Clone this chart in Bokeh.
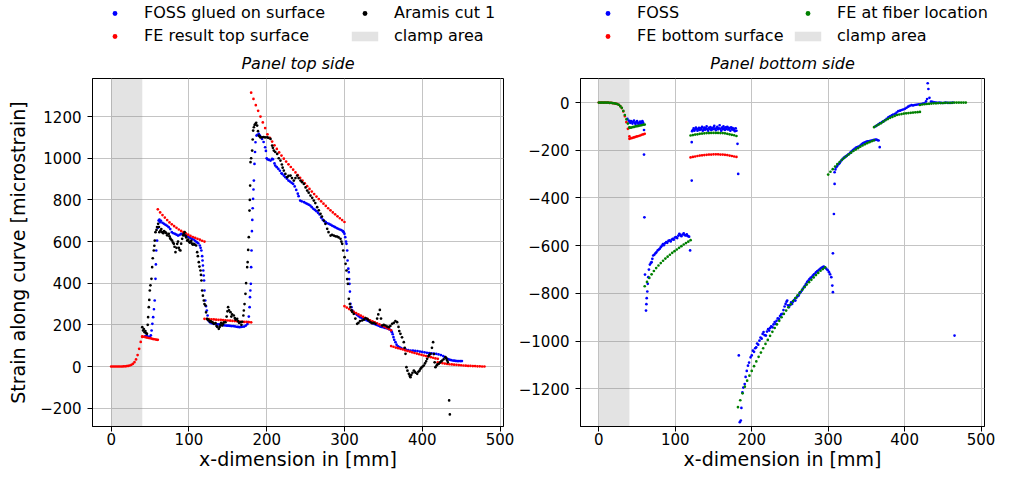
from bokeh.plotting import figure
from bokeh.layouts import row, column
from bokeh.models import Range1d, Legend, LegendItem, FixedTicker, CustomJSTickFormatter
from bokeh.embed import file_html
from bokeh.resources import INLINE

FONT = "DejaVu Sans"

# ---------------- axis settings ----------------
x_ticks = [0, 100, 200, 300, 400, 500]
y_ticks_top = [-200, 0, 200, 400, 600, 800, 1000, 1200]
y_ticks_bottom = [-1200, -1000, -800, -600, -400, -200, 0]
x_lim = [-24, 504.5]
y_lim_top = [-288, 1383]
y_lim_bottom = [-1358, 101]
clamp_left = [0]
clamp_right = [40]

# ---------------- LEFT: FE result top surface ----------------
fe_top_x = [0, 2, 4, 6, 8, 10, 12, 14, 16, 18, 20, 22, 24, 26, 28, 30, 32, 34, 36, 38, 40,
            40, 42, 44, 46, 48, 50, 52, 54, 56, 58, 60,
            60, 63, 66, 69, 72, 75, 78, 81, 84, 87, 90, 93, 96, 99, 102, 105, 108, 111, 114, 117, 120,
            120, 123, 126, 129, 132, 135, 138, 141, 144, 147, 150, 153, 156, 159, 162, 165, 168, 171, 174, 177, 180,
            180, 183, 186, 189, 192, 195, 198, 201, 204, 207, 210, 213, 216, 219, 222, 225, 228, 231, 234, 237, 240,
            243, 246, 249, 252, 255, 258, 261, 264, 267, 270, 273, 276, 279, 282, 285, 288, 291, 294, 297, 300,
            300, 303, 306, 309, 312, 315, 318, 321, 324, 327, 330, 333, 336, 339, 342, 345, 348, 351, 354, 357, 360,
            360, 363, 366, 369, 372, 375, 378, 381, 384, 387, 390, 393, 396, 399, 402, 405, 408, 411, 414, 417, 420,
            420, 423, 426, 429, 432, 435, 438, 441, 444, 447, 450, 453, 456, 459, 462, 465, 468, 471, 474, 477, 480]
fe_top_y = [0, 0, 0, 0, 0, 0, 0, 0, 1, 1, 2, 3, 5, 8, 13, 21, 34, 55, 85, 118, 142,
            145, 143, 141, 139, 137, 136, 134, 132, 131, 129, 128,
            755, 740, 727, 715, 703, 692, 683, 674, 666, 658, 651, 645, 639, 633, 627, 622, 618, 613, 609, 604, 600,
            229, 228, 228, 227, 226, 225, 224, 224, 223, 222, 221, 220, 219, 218, 217, 216, 215, 214, 214, 213, 212,
            1315, 1285, 1255, 1228, 1200, 1172, 1145, 1115, 1098, 1080, 1062, 1045, 1028, 1013, 998, 984, 971, 958, 945, 932, 919,
            906, 893, 880, 866, 853, 840, 828, 816, 804, 793, 782, 771, 760, 750, 740, 731, 721, 712, 703, 694,
            290, 283, 276, 269, 262, 256, 250, 244, 238, 233, 228, 222, 217, 212, 207, 202, 197, 192, 186, 180, 174,
            98, 95, 91, 88, 85, 82, 78, 75, 72, 68, 65, 62, 59, 56, 53, 50, 47, 45, 42, 39, 37,
            20, 18, 16, 14, 12, 11, 10, 9, 8, 7, 6, 5, 4, 3, 3, 2, 2, 1, 1, 0, 0]

# ---------------- LEFT: FOSS glued on surface (x, strain) ----------------
foss_top = [(44, 146), (46, 148), (48, 143), (50, 141), (51, 150), (52, 173), (53, 205), (54, 237), (55, 275),
            (56, 317), (57, 421), (57.5, 490), (58, 557), (59, 605), (60, 666), (61, 701), (62, 705), (63, 693),
            (64, 700), (66, 690), (68, 685), (70, 680), (72, 676), (74, 669), (76, 660), (78, 645), (80, 640),
            (82, 637), (84, 633), (86, 629), (88, 632), (90, 637), (92, 635), (94, 630), (96, 629), (98, 625),
            (100, 621), (102, 617), (104, 613), (106, 610), (108, 604), (110, 597), (112, 592), (114, 581),
            (115, 570), (116, 557), (117, 530), (117.5, 509), (118, 485), (118.5, 461), (119, 437), (119.5, 413),
            (120, 365), (121, 317), (122, 290), (123, 269), (124, 245), (125, 221), (127, 212), (129, 208),
            (131, 207), (133, 205), (135, 204), (137, 202), (139, 202), (141, 200), (143, 199), (145, 198),
            (147, 197), (149, 196), (151, 196), (153, 195), (155, 194), (157, 194), (159, 193), (161, 191),
            (163, 190), (165, 189), (167, 190), (169, 191), (171, 192), (173, 196), (175, 203), (176, 213),
            (177, 240), (178, 285), (178.5, 333), (179, 365), (179.6, 397), (180, 477), (180.5, 557), (181, 650),
            (181.5, 704), (182, 760), (182.5, 805), (183, 850), (183.5, 893), (184.3, 973), (185, 1030),
            (185.6, 1077), (186.9, 1109), (188, 1112), (189.9, 1117), (191, 1110), (192, 1103), (194, 1093),
            (196, 1078), (198, 1053), (199, 1035), (200, 1000), (201, 995), (203, 992), (205, 989), (207, 997),
            (208, 995), (210, 975), (211, 965), (213, 957), (215, 949), (217, 940), (219, 928), (220, 925),
            (222, 917), (224, 909), (226, 902), (228, 893), (230, 888), (232, 882), (234, 877), (236, 865),
            (238, 848), (240, 830), (241, 818), (243, 797), (245, 793), (248, 789), (250, 785), (252, 781),
            (254, 777), (256, 773), (258, 765), (260, 757), (262, 752), (264, 746), (266, 738), (268, 730),
            (270, 715), (272, 705), (274, 698), (276, 693), (278, 688), (280, 685), (282, 681), (284, 677),
            (286, 673), (288, 669), (290, 665), (292, 661), (294, 658), (296, 655), (298, 650), (299, 645),
            (300, 637), (301, 621), (302, 600), (302.6, 589), (303.5, 557), (304, 509), (305, 470), (305.6, 453),
            (306, 420), (306.5, 397), (307, 360), (307.7, 301), (309, 285), (310, 270), (312, 261), (314, 255),
            (316, 248), (318, 242), (320, 237), (322, 234), (324, 231), (326, 227), (328, 223), (330, 220),
            (332, 216), (334, 212), (336, 208), (338, 205), (340, 202), (342, 199), (344, 196), (346, 192),
            (348, 190), (350, 188), (352, 186), (354, 184), (356, 182), (358, 178), (360, 172), (361, 165),
            (362, 155), (363, 141), (364, 128), (365.6, 117), (367, 105), (369, 97), (371, 92), (373, 88),
            (376, 85), (379, 81), (382, 79), (385, 77), (388, 76), (391, 75), (394, 74), (397, 72), (400, 70),
            (403, 68), (406, 66), (409, 65), (412, 63), (415, 62), (418, 61), (421, 58), (424, 55), (427, 50),
            (429, 45), (431, 40), (433, 36), (435, 33), (437, 31), (439, 29), (441, 28), (443, 27), (445, 26),
            (447, 26), (449, 26), (451, 26)]

# ---------------- LEFT: Aramis cut 1 (x, strain) ----------------
aramis = [(40, 189), (41, 173), (42, 180), (43, 165), (44, 170), (45, 160), (46, 157), (47, 200), (47.5, 237),
          (48.4, 285), (49, 320), (49.7, 365), (50.5, 390), (51.8, 421), (52.7, 477), (53.5, 520), (54.8, 557),
          (55.5, 580), (56.1, 605), (57, 645), (58.3, 656), (59, 670), (60.4, 685), (61.5, 670), (62, 645),
          (63.4, 653), (64.5, 660), (65.6, 645), (67, 640), (68, 650), (69.8, 645), (71, 640), (72, 630),
          (74.1, 637), (75, 625), (76, 615), (77, 610), (78.4, 605), (79.5, 595), (80.6, 589), (81.5, 575),
          (82.7, 549), (84, 570), (84.9, 589), (86, 600), (87, 570), (88, 560), (89.1, 557), (90, 590),
          (91.3, 613), (92.5, 630), (93.4, 637), (94.5, 645), (95.6, 629), (96.5, 620), (97.7, 605), (99, 610),
          (100, 600), (101, 595), (102, 597), (103, 604), (104, 590), (105, 585), (106.3, 589), (107.5, 585),
          (109.3, 581), (110.6, 549), (111.5, 530), (112.7, 501), (113.5, 480), (114.9, 461), (115.5, 440),
          (116.1, 413), (117, 365), (118, 340), (119.1, 317), (120, 300), (121.3, 293), (122, 260), (123.4, 229),
          (124.5, 225), (125.6, 221), (127, 215), (128, 218), (129.9, 213), (131, 210), (132, 205), (134.2, 208),
          (135.5, 195), (136.5, 190), (138.4, 181), (139.5, 190), (140.5, 200), (141.5, 210), (142.7, 197),
          (144, 205), (145, 212), (147, 213), (148.5, 240), (149.5, 265), (150.4, 285), (151.5, 270),
          (153.4, 261), (154.5, 240), (155.5, 250), (157.7, 245), (159, 232), (160, 225), (162, 229), (163, 218),
          (164.5, 210), (166.3, 213), (167.5, 200), (168.5, 215), (170, 245), (170.6, 269), (171.5, 300),
          (172.7, 349), (173.5, 400), (174.9, 477), (175.5, 501), (176.2, 560), (177, 621), (177.9, 749),
          (178.3, 800), (178.7, 869), (179.2, 981), (180, 1000), (181.3, 1037), (182, 1090), (182.6, 1133),
          (183.5, 1149), (184.5, 1160), (185.6, 1165), (186.5, 1170), (187.7, 1157), (188.8, 1130), (189.9, 1109),
          (191, 1105), (192, 1100), (194.2, 1101), (196, 1102), (198, 1100), (200.6, 1101), (202, 1098),
          (204.9, 1093), (207, 1061), (208, 1050), (209.2, 1037), (211, 1030), (213.5, 1021), (215.5, 1000),
          (217.7, 989), (219.5, 970), (220.5, 955), (222, 941), (224, 925), (226.3, 909), (228, 915),
          (230.6, 917), (232.5, 905), (234.9, 893), (237, 905), (239.2, 917), (241, 905), (243.5, 893),
          (245.5, 885), (247.8, 877), (250, 860), (252.1, 845), (254, 835), (256.3, 821), (258.5, 810),
          (260.6, 797), (262.5, 785), (264.9, 765), (267, 750), (269.2, 733), (271, 720), (273.5, 701),
          (275.5, 685), (277.8, 661), (279.5, 645), (282.1, 629), (284, 632), (286.3, 629), (288.5, 625),
          (290.6, 624), (292.5, 620), (294.9, 613), (296, 600), (297.1, 589), (298.4, 557), (300.1, 525),
          (301.4, 493), (302.6, 461), (303.5, 420), (304.4, 397), (305.6, 325), (306.9, 300), (307.7, 285),
          (309, 270), (310, 262), (312, 253), (314, 230), (316.3, 205), (318, 210), (320, 218), (322.7, 221),
          (325, 225), (327, 232), (329.2, 229), (331, 222), (333.4, 213), (335.5, 208), (337.5, 210),
          (339.9, 205), (342, 230), (343.5, 250), (345.5, 272), (347, 230), (348.5, 197), (350.5, 200),
          (352.7, 197), (355, 192), (357, 189), (359, 195), (361.3, 205), (363.5, 210), (365.5, 218),
          (367.7, 213), (369.5, 190), (370.5, 170), (372, 157), (374, 140), (376.3, 117), (377.5, 90),
          (378.5, 61), (379.7, -3), (381, -20), (382.8, -35), (384, -45), (384.9, -51), (386, -40), (387.5, -30),
          (389.2, -19), (390.5, -25), (391.5, -30), (393.5, -35), (395, -25), (396.5, -20), (397.8, -11),
          (399, -5), (400.5, 0), (402, 5), (403.5, 15), (405, 25), (406.3, 37), (408, 50), (409, 55),
          (410.6, 61), (412.5, 90), (414, 117), (415, 60), (416, 20), (417, -3), (418.5, 5), (419.5, 10),
          (421.3, 13), (423, 20), (424.5, 25), (425.6, 29), (427.5, 35), (429.9, 45), (431, 38), (432, 29),
          (433, 20), (434.6, -163), (435.5, -230)]

# ---------------- RIGHT: FE bottom surface ----------------
fe_bot_x = [0, 2, 4, 6, 8, 10, 12, 14, 16, 18, 20, 22, 24, 26, 28, 30, 32, 34, 36, 38, 40,
            40, 42, 44, 46, 48, 50, 52, 54, 56, 58, 60,
            120, 123, 126, 129, 132, 135, 138, 141, 144, 147, 150, 153, 156, 159, 162, 165, 168, 171, 174, 177, 180]
fe_bot_y = [0, 0, 0, 0, 0, 0, 0, -1, -1, -2, -3, -4, -6, -9, -15, -23, -37, -57, -82, -110, -142,
            -152, -150, -148, -146, -144, -142, -140, -138, -135, -133, -131,
            -230, -228, -226, -224, -222, -221, -220, -219, -218, -218, -217, -217, -217, -218, -218, -219, -220,
            -222, -224, -226, -228]

# ---------------- RIGHT: FE at fiber location ----------------
fe_fib_x = [0, 2, 4, 6, 8, 10, 12, 14, 16, 18, 20, 22, 24, 26, 28, 30, 32, 34, 36, 38, 40,
            40, 42, 44, 46, 48, 50, 52, 54, 56, 58, 60,
            60, 63, 66, 69, 72, 75, 78, 81, 84, 87, 90, 93, 96, 99, 102, 105, 108, 111, 114, 117, 120,
            120, 123, 126, 129, 132, 135, 138, 141, 144, 147, 150, 153, 156, 159, 162, 165, 168, 171, 174, 177, 180,
            182, 185, 188, 191, 194, 197, 200, 203, 206, 209, 212, 215, 218, 221, 224, 227, 230, 233, 236, 239,
            242, 245, 248, 251, 254, 257, 260, 263, 266, 269, 272, 275, 278, 281, 284, 287, 290, 293, 296,
            300, 303, 306, 309, 312, 315, 318, 321, 324, 327, 330, 333, 336, 339, 342, 345, 348, 351, 354, 357, 360,
            360, 363, 366, 369, 372, 375, 378, 381, 384, 387, 390, 393, 396, 399, 402, 405, 408, 411, 414, 417, 420,
            420, 423, 426, 429, 432, 435, 438, 441, 444, 447, 450, 453, 456, 459, 462, 465, 468, 471, 474, 477, 480]
fe_fib_y = [0, 0, 0, 0, 0, 0, 0, -1, -1, -2, -3, -4, -6, -9, -15, -22, -35, -52, -70, -88, -104,
            -106, -105, -103, -102, -100, -99, -98, -96, -95, -93, -92,
            -770, -752, -735, -720, -706, -694, -683, -673, -663, -654, -646, -638, -630, -623, -616, -609, -602,
            -595, -589, -583, -577,
            -138, -136, -134, -133, -131, -130, -129, -128, -128, -127, -127, -127, -127, -128, -128, -129, -131,
            -133, -135, -137, -140,
            -1277, -1248, -1219, -1191, -1166, -1145, -1125, -1105, -1085, -1066, -1048, -1030, -1012, -995, -978,
            -961, -945, -930, -915, -900, -886, -872, -858, -845, -832, -820, -808, -796, -785, -774, -763, -753,
            -743, -733, -723, -714, -705, -698, -691,
            -302, -290, -279, -268, -258, -249, -240, -232, -224, -217, -210, -203, -197, -191, -185, -180, -175,
            -170, -166, -162, -158,
            -103, -97, -92, -87, -80, -74, -69, -64, -60, -56, -52, -50, -48, -46, -45, -44, -43, -42, -41, -40, -39,
            -10, -8, -7, -6, -5, -4, -3, -3, -2, -2, -2, -1, -1, -1, -1, 0, 0, 0, 0, 0, 0]

# ---------------- RIGHT: FOSS (x, strain) ----------------
foss_bot = [(37.3, -68), (39, -75), (40, -80), (41, -85), (42, -78), (43, -82), (44, -88), (45, -80), (46, -75),
            (47, -85), (48, -90), (49, -82), (50, -78), (51, -86), (52, -92), (53, -84), (54, -80), (55, -88),
            (56, -82), (57, -78), (58, -85), (59.1, -115), (59.1, -218), (59.6, -481),
            (60.4, -721), (61.7, -872), (62.2, -845), (62.6, -820), (63.4, -792), (64, -760), (64.7, -732),
            (65.5, -700), (66.8, -679), (68, -672), (69, -669), (70, -655), (71.1, -641), (72.5, -638), (74, -632),
            (75.4, -627), (77, -620), (78.5, -616), (79.6, -613), (81, -606), (82.5, -600), (83.9, -593),
            (85, -598), (86.5, -590), (88.2, -585), (89.5, -588), (91, -580), (92.5, -578), (94, -582),
            (95.5, -574), (96.8, -571), (98, -575), (99.5, -566), (101, -564), (102.5, -568), (104, -558),
            (105.3, -550), (106.5, -555), (108, -560), (109.6, -553), (111, -548), (112.5, -556), (113.9, -557),
            (115, -552), (116.5, -560), (118.1, -562), (119.4, -620),
            (121.5, -166), (121.5, -327), (122, -120), (123, -115), (124, -108), (125, -118), (126, -112),
            (127, -105), (128, -110), (129, -118), (130, -112), (131, -106), (132, -115), (133, -108), (134, -112),
            (135, -102), (136, -118), (137, -110), (138, -105), (139, -114), (140, -108), (141, -100), (142, -112),
            (143, -118), (144, -106), (145, -110), (146, -103), (147, -115), (148, -108), (149, -112), (150, -104),
            (151, -98), (152, -110), (153, -116), (154, -107), (155, -102), (156, -112), (157, -108), (158, -95),
            (159, -110), (160, -118), (161, -105), (162, -112), (163, -100), (164, -108), (165, -115), (166, -104),
            (167, -110), (168, -102), (169, -113), (170, -106), (171, -110), (172, -118), (173, -104), (174, -112),
            (175, -107), (176, -115), (177, -110), (178, -120), (179, -108), (180, -118), (181.4, -173),
            (182.3, -299),
            (183.1, -1060), (184.4, -1340), (185.7, -1333), (186.5, -1280), (187.8, -1215), (189, -1195),
            (190.8, -1180), (192, -1150), (193.5, -1125), (195.1, -1103), (196.5, -1090), (198.5, -1068),
            (200, -1060), (201.5, -1040), (203, -1045), (204.5, -1030), (205.8, -1026), (207, -1010),
            (208.5, -1015), (210.1, -998), (211.5, -985), (213, -990), (214.3, -970), (215.5, -962), (217, -975),
            (218.6, -977), (220, -960), (221.5, -950), (222.9, -956), (224, -945), (225.5, -938), (227.2, -942),
            (228.5, -930), (230, -920), (231.4, -928), (232.5, -915), (234, -905), (235.7, -907), (237, -895),
            (238.5, -888), (240, -886), (241.5, -870), (243, -855), (244.3, -844), (245.5, -835), (246.4, -830),
            (247.5, -850), (248.5, -858), (250, -850), (251.5, -838), (252.8, -844), (254, -835), (255.5, -828),
            (257.1, -830), (258.5, -818), (260, -812), (261.4, -809), (262.5, -800), (264, -795), (265.6, -788),
            (267, -780), (268.5, -772), (269.9, -767), (271, -760), (272.5, -752), (274.2, -746), (275.5, -740),
            (277, -735), (278.5, -732), (280, -725), (281.5, -720), (282.7, -718), (284, -712), (285.5, -708),
            (287, -704), (288.5, -700), (290, -696), (291.3, -693), (292.8, -690), (294.3, -688), (296, -692),
            (297.7, -697), (299.5, -703), (301.1, -711), (302.5, -720), (304.1, -732), (305.4, -767),
            (306.2, -795), (306.2, -632), (307.5, -467), (308.4, -341),
            (308.4, -292), (309.5, -280), (310.5, -271), (312, -265), (313.5, -258), (314.8, -254), (316, -248),
            (317.5, -242), (319.1, -236), (320.5, -232), (322, -228), (323.3, -226), (324.5, -222), (326, -218),
            (327.6, -215), (329, -210), (330.5, -205), (331.9, -201), (333, -198), (334.5, -194), (336.2, -190),
            (337.5, -188), (339, -186), (340.4, -184), (342, -180), (343.5, -176), (344.7, -173), (346, -170),
            (347.5, -168), (349, -166), (350.5, -164), (352, -163), (353.3, -162), (355, -160), (356.5, -160),
            (357.5, -159), (359, -157), (360.5, -156), (361.8, -156), (363, -155), (364.5, -157), (366, -159),
            (367.4, -187),
            (361.8, -100), (364, -95), (366, -90), (368, -86), (370.4, -82), (372.5, -78), (374.6, -73),
            (376.5, -68), (378.9, -61), (381, -58), (383.2, -54), (385, -50), (387.5, -47), (389.5, -42),
            (391.7, -36), (394, -34), (396, -31), (398, -29), (400.3, -26), (402.5, -22), (404.6, -17),
            (406.5, -14), (408.9, -11), (411, -12), (413.1, -10), (415, -9), (417, -8), (419, -7),
            (421.7, -6), (424, -4), (426, -3), (428, 5), (429.4, 15), (430.2, 81), (431.1, 57), (432.5, 20),
            (434.5, 4), (436.5, 3), (438.8, 1), (441, 0), (443.1, -1), (445.5, 0), (448, -1), (451.6, -1),
            (454, 0), (457, -1), (460.2, -1), (463, 0), (465.3, -977)]

MINUS_FMT = "return tick < 0 ? '\u2212' + (-tick) : '' + tick;"
DOT = 2.7
KEY_DOT = 2.0
CLAMP_STYLE = dict(fill_color="gray", fill_alpha=0.22, line_color=None)


def make_fig(width, border_left, border_right, y_lim, y_ticks, title, ylabel):
    p = figure(width=width, height=427, x_range=Range1d(*x_lim), y_range=Range1d(*y_lim),
               output_backend="svg", toolbar_location=None, title=title,
               min_border_left=border_left, min_border_right=border_right,
               min_border_top=33, min_border_bottom=46)
    p.title.align = "center"
    p.title.text_font = FONT
    p.title.text_font_size = "16px"
    p.title.text_font_style = "italic"
    p.title.text_color = "black"
    p.title.standoff = 12
    p.xaxis.ticker = FixedTicker(ticks=x_ticks)
    p.yaxis.ticker = FixedTicker(ticks=y_ticks)
    for ax in (p.xaxis[0], p.yaxis[0]):
        ax.formatter = CustomJSTickFormatter(code=MINUS_FMT)
        ax.major_label_text_font = FONT
        ax.major_label_text_font_size = "15px"
        ax.major_label_text_color = "black"
        ax.axis_label_text_font = FONT
        ax.axis_label_text_font_size = "19px"
        ax.axis_label_text_font_style = "normal"
        ax.axis_label_text_color = "black"
        ax.major_tick_in = 0
        ax.major_tick_out = 5
        ax.major_tick_line_color = "black"
        ax.minor_tick_line_color = None
        ax.axis_line_color = "black"
    p.xaxis.major_label_standoff = 1
    p.xaxis.axis_label_standoff = 0
    p.yaxis.major_label_standoff = 6
    p.yaxis.axis_label_standoff = 8
    p.xaxis.axis_label = "x-dimension in [mm]"
    if ylabel:
        p.yaxis.axis_label = ylabel
    p.grid.grid_line_color = "#c4c4c4"
    p.grid.grid_line_width = 1
    p.outline_line_color = "black"
    p.outline_line_width = 1
    return p


# ---------------- left figure ----------------
p1 = make_fig(515, 92, 12, y_lim_top, y_ticks_top, "Panel top side", "Strain along curve [microstrain]")
p1.quad(left=clamp_left, right=clamp_right, bottom=[y_lim_top[0]], top=[y_lim_top[1]], **CLAMP_STYLE)
fx, fy = zip(*foss_top)
p1.scatter(list(fx), list(fy), size=DOT, fill_color="blue", line_color=None)
p1.scatter(fe_top_x, fe_top_y, size=DOT, fill_color="red", line_color=None)
ax_, ay_ = zip(*aramis)
p1.scatter(list(ax_), list(ay_), size=DOT, fill_color="black", line_color=None)

# ---------------- right figure ----------------
p2 = make_fig(480, 63, 11, y_lim_bottom, y_ticks_bottom, "Panel bottom side", None)
p2.quad(left=clamp_left, right=clamp_right, bottom=[y_lim_bottom[0]], top=[y_lim_bottom[1]], **CLAMP_STYLE)
bx, by = zip(*foss_bot)
p2.scatter(list(bx), list(by), size=DOT, fill_color="blue", line_color=None)
p2.scatter(fe_bot_x, fe_bot_y, size=DOT, fill_color="red", line_color=None)
p2.scatter(fe_fib_x, fe_fib_y, size=DOT, fill_color="green", line_color=None)

# ---------------- legend strip ----------------
# Legend keys reuse the first sample of each series; the strip's ranges keep those samples out of view.
pl = figure(width=995, height=45, x_range=Range1d(-2000, -1999), y_range=Range1d(-2000, -1999),
            output_backend="svg", toolbar_location=None, min_border=0,
            x_axis_location=None, y_axis_location=None)
pl.grid.visible = False
pl.outline_line_color = None


def key_scatter(xs, ys, col):
    return pl.scatter(x=xs[:1], y=ys[:1], size=KEY_DOT, fill_color=col, line_color=None)


def key_clamp(y_lim):
    return pl.quad(left=clamp_left, right=clamp_right, bottom=[y_lim[0]], top=[y_lim[1]], **CLAMP_STYLE)


def make_legend(pairs, loc, label_width):
    items = [LegendItem(label=lab, renderers=[r]) for lab, r in pairs]
    return Legend(items=items, location=loc, orientation="vertical", ncols=2,
                  label_text_font=FONT, label_text_font_size="16px", label_text_color="black",
                  glyph_width=33, glyph_height=12, label_height=16, label_width=label_width,
                  label_standoff=13, spacing=4, padding=0, margin=0,
                  border_line_color=None, background_fill_alpha=0)


leg_a = make_legend([("FOSS glued on surface", key_scatter(list(fx), list(fy), "blue")),
                     ("FE result top surface", key_scatter(fe_top_x, fe_top_y, "red")),
                     ("Aramis cut 1", key_scatter(list(ax_), list(ay_), "black")),
                     ("clamp area", key_clamp(y_lim_top))], (98, 0), 200)
leg_b = make_legend([("FOSS", key_scatter(list(bx), list(by), "blue")),
                     ("FE bottom surface", key_scatter(fe_bot_x, fe_bot_y, "red")),
                     ("FE at fiber location", key_scatter(fe_fib_x, fe_fib_y, "green")),
                     ("clamp area", key_clamp(y_lim_bottom))], (591, 0), 150)
pl.add_layout(leg_a, "center")
pl.add_layout(leg_b, "center")

layout = column(pl, row(p1, p2))
open("out.html", "w").write(file_html(layout, INLINE))
